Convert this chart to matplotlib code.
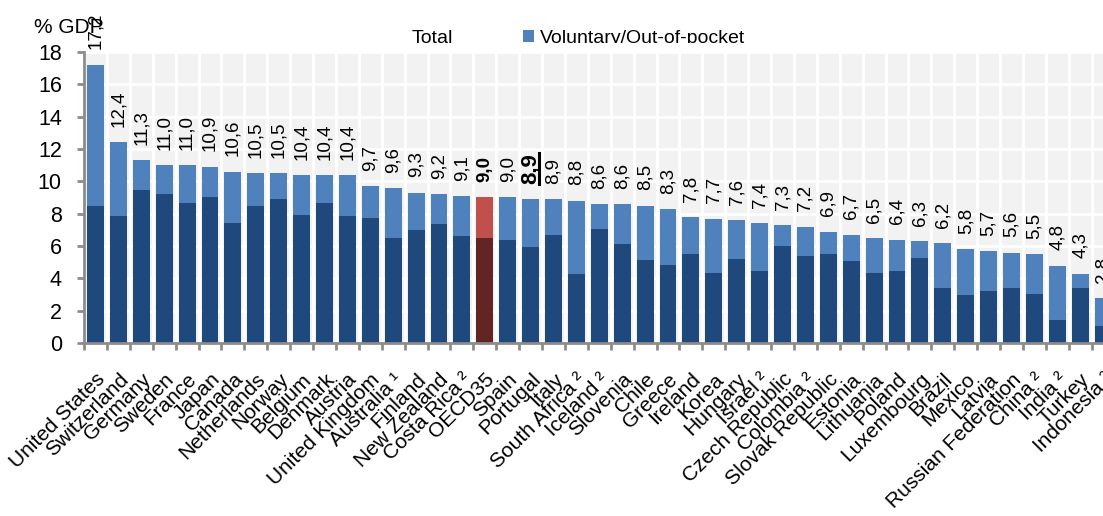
import numpy as np
import matplotlib
matplotlib.use("Agg")
import matplotlib.pyplot as plt
from matplotlib.patches import Patch
from matplotlib.lines import Line2D
from matplotlib.transforms import Bbox, TransformedBbox

plt.rcParams['font.family'] = ['Liberation Sans', 'DejaVu Sans']

countries = ['United States', 'Switzerland', 'Germany', 'Sweden', 'France', 'Japan',
             'Canada', 'Netherlands', 'Norway', 'Belgium', 'Denmark', 'Austria',
             'United Kingdom', 'Australia ¹', 'Finland', 'New Zealand', 'Costa Rica ²',
             'OECD35', 'Spain', 'Portugal', 'Italy', 'South Africa ²', 'Iceland ²',
             'Slovenia', 'Chile', 'Greece', 'Ireland', 'Korea', 'Hungary', 'Israel ²',
             'Czech Republic', 'Colombia ²', 'Slovak Republic', 'Estonia', 'Lithuania',
             'Poland', 'Luxembourg', 'Brazil', 'Mexico', 'Latvia', 'Russian Federation',
             'China ²', 'India ²', 'Turkey', 'Indonesia ²']

# total health expenditure, % of GDP
total = [17.2, 12.4, 11.3, 11.0, 11.0, 10.9, 10.6, 10.5, 10.5, 10.4, 10.4, 10.4,
         9.7, 9.6, 9.3, 9.2, 9.1, 9.0, 9.0, 8.9, 8.9, 8.8, 8.6, 8.6, 8.5, 8.3,
         7.8, 7.7, 7.6, 7.4, 7.3, 7.2, 6.9, 6.7, 6.5, 6.4, 6.3, 6.2, 5.8, 5.7,
         5.6, 5.5, 4.8, 4.3, 2.8]

# government / compulsory schemes
government = [8.45, 7.83, 9.49, 9.19, 8.63, 9.06, 7.40, 8.45, 8.88, 7.95, 8.69, 7.83,
              7.71, 6.47, 6.97, 7.34, 6.60, 6.47, 6.35, 5.92, 6.66, 4.25, 7.03, 6.10,
              5.12, 4.81, 5.49, 4.32, 5.18, 4.44, 5.98, 5.36, 5.49, 5.06, 4.32, 4.44,
              5.24, 3.39, 2.96, 3.21, 3.39, 3.02, 1.42, 3.39, 1.05]

average = 'OECD35'
highlight = 'Portugal'

total = np.array(total)
government = np.array(government)
voluntary = total - government
x = np.arange(len(countries))

dark = ['#632523' if c == average else '#1F497D' for c in countries]
light = ['#C0504D' if c == average else '#4F81BD' for c in countries]

fig = plt.figure(figsize=(11.03, 5.16), dpi=100)
ax = fig.add_axes([0.0762, 0.3347, 0.9343, 0.5651])
ax.set_facecolor('#F2F2F2')

ax.bar(x, government, width=0.74, color=dark, zorder=2)
ax.bar(x, voluntary, bottom=government, width=0.74, color=light, zorder=2)

hl_label = None
for i, (c, v) in enumerate(zip(countries, total)):
    kw = dict(rotation=90, ha='center', va='bottom', fontsize=13.5,
              textcoords='offset points', xytext=(0, 11), annotation_clip=False)
    if c == highlight:
        kw.update(fontsize=16, fontweight='bold')
    elif c == average:
        kw['fontweight'] = 'bold'
    t = ax.annotate(f'{v:.1f}'.replace('.', ','), (i, v), **kw)
    if c == highlight:
        hl_label = t

ax.set_xlim(-0.5, len(countries) - 0.5)
ax.set_ylim(0, 18)
ax.set_yticks(np.arange(0, 19, 2))
ax.set_xticks(x)
ax.set_xticklabels(countries, rotation=45, ha='right', rotation_mode='anchor', fontsize=15)
ax.set_xticks(np.arange(-0.5, len(countries), 1), minor=True)
ax.tick_params(axis='x', which='major', length=0, pad=19)
ax.tick_params(axis='x', which='minor', length=5, width=2, color='#8C8C8C')
ax.tick_params(axis='y', length=5, width=2, color='#8C8C8C', pad=11, labelsize=15.5)

ax.grid(True, axis='y', color='white', lw=2)
ax.grid(True, axis='x', which='minor', color='white', lw=2)
ax.set_axisbelow(True)
for s in ['top', 'right']:
    ax.spines[s].set_visible(False)
for s in ['left', 'bottom']:
    ax.spines[s].set_color('#8C8C8C')
    ax.spines[s].set_linewidth(2)

fig.text(34 / 1103, 1 - 33 / 516, '% GDP', fontsize=15, va='baseline')

handles = [Patch(facecolor='none', edgecolor='none', label='Total'),
           Patch(facecolor='#4F81BD', edgecolor='none', label='Voluntary/Out-of-pocket')]
leg = fig.legend(handles=handles, loc='lower left', bbox_to_anchor=(395 / 1103, 1 - 47 / 516),
                 ncol=2, frameon=False, fontsize=14, borderpad=0, borderaxespad=0,
                 handlelength=0.55, handleheight=0.55, handletextpad=0.3, columnspacing=3.6)
# the legend row is cut just under the baseline
clip = TransformedBbox(Bbox([[0, 1 - 43 / 516], [1, 1]]), fig.transFigure)
for t in leg.get_texts():
    t.set_clip_box(clip)
    t.set_clip_on(True)

# underline for the highlighted label (rotated text, so the line sits on its right)
fig.canvas.draw()
bb = hl_label.get_window_extent()
W, H = fig.bbox.width, fig.bbox.height
ux = (bb.x1 - 2) / W
fig.add_artist(Line2D([ux, ux], [bb.y0 / H, bb.y1 / H], color='black', lw=2.2,
                      transform=fig.transFigure))

fig.savefig('out.png', dpi=100)
